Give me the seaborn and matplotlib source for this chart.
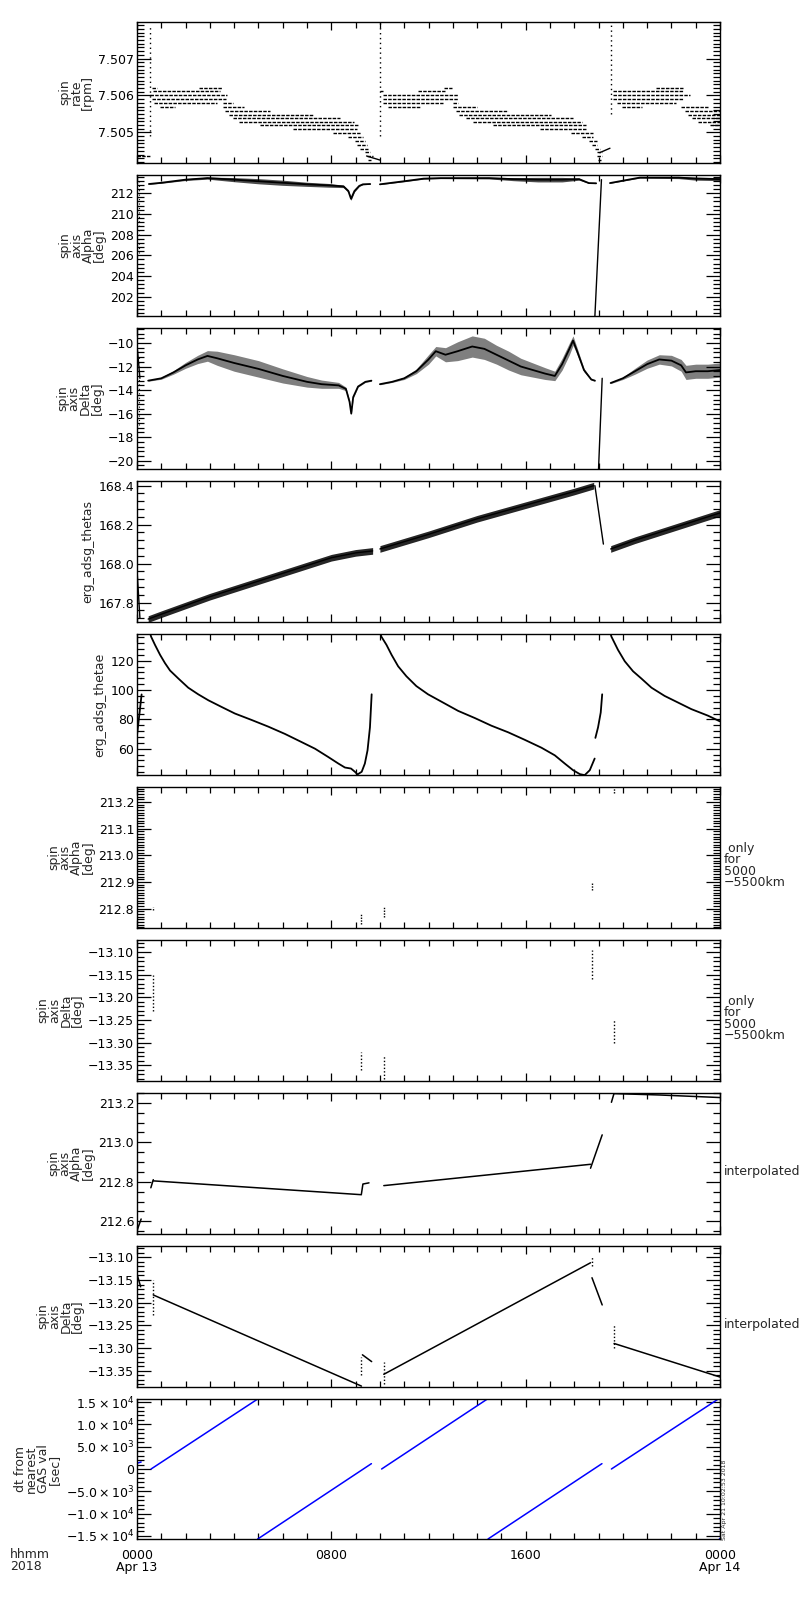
import numpy as np
import pandas as pd
import matplotlib
matplotlib.use('Agg')
import matplotlib.pyplot as plt
import seaborn as sns
from matplotlib.ticker import MultipleLocator, FixedLocator, FixedFormatter, FuncFormatter

sns.set_theme(style='ticks')
plt.rcParams['font.family'] = ['DejaVu Sans']
plt.rcParams['axes.linewidth'] = 1.0

# ---------------- time axis ----------------
xtick_hours = [0, 8, 16, 24]
xtick_labels = ['0000\nApr 13', '0800', '1600', '0000\nApr 14']
corner_label = 'hhmm\n2018'
stamp_text = 'Sat Apr 21 10:02:53 2018'

# ---------------- panel 1 : spin rate ----------------
spin_rate_levels = [7.50621, 7.50611, 7.50600, 7.50590, 7.50579, 7.50569, 7.50558,
                    7.50548, 7.50538, 7.50529, 7.50519, 7.50508, 7.50498, 7.50487,
                    7.50476, 7.50466, 7.50456, 7.50446, 7.50436, 7.50425]
spin_seg_t0 = [0.00, 0.60, 2.55, 0.64, 0.53, 0.60, 0.70, 3.52, 0.95, 3.52, 3.62, 3.80, 3.94, 4.21,
               5.06, 6.43, 8.08, 8.70, 8.97, 9.04, 9.18, 9.38, 9.45, 9.50,
               10.00, 11.55, 12.65, 10.14, 10.14, 10.14, 13.00, 10.34, 13.02, 13.13, 13.26, 13.54,
               13.84, 14.66, 16.58, 17.85, 18.30, 18.61, 18.75, 18.85, 18.92, 18.92, 18.98,
               21.36, 19.60, 19.60, 19.60, 19.74, 19.95, 22.41, 22.55, 22.69, 22.83, 23.10, 23.58]
spin_seg_t1 = [0.53, 0.81, 3.48, 3.42, 3.69, 3.66, 3.28, 3.96, 1.56, 4.42, 5.47, 7.26, 8.36, 8.93,
               9.11, 9.04, 9.24, 9.31, 9.38, 9.45, 9.52, 9.59, 9.73, 9.65,
               10.14, 12.67, 12.95, 13.22, 13.22, 12.58, 13.20, 11.65, 13.98, 15.28, 17.06, 17.93,
               18.30, 18.50, 18.50, 18.78, 18.78, 18.92, 18.94, 19.05, 19.16, 19.16, 19.12,
               22.46, 22.48, 22.76, 22.48, 22.20, 20.77, 23.51, 24.0, 24.0, 24.0, 24.0, 24.0]
spin_seg_lev = [18, 0, 0, 1, 2, 3, 4, 4, 5, 5, 6, 7, 8, 9,
                10, 11, 12, 13, 14, 15, 16, 17, 18, 19,
                1, 1, 0, 2, 3, 4, 4, 5, 5, 6, 7, 8,
                9, 10, 11, 12, 13, 14, 15, 16, 17, 18, 19,
                0, 1, 2, 3, 4, 5, 5, 6, 7, 8, 9, 10]
spin_tail_t = [[9.45, 10.0], [19.05, 19.47]]
spin_tail_v = [[7.50436, 7.50425], [7.50445, 7.50457]]
spin_spike_t = [0.53, 10.0, 19.5]
spin_spike_lo = [7.5049, 7.5049, 7.5055]
spin_spike_hi = [7.5079, 7.5080, 7.5080]

# ---------------- panel 2 : spin axis alpha ----------------
alpha_t = [[0.49, 1.0, 2.0, 2.9, 4.0, 5.0, 6.0, 7.0, 7.9, 8.5, 8.7, 8.81, 8.95, 9.15, 9.3, 9.6],
           [10.0, 11.0, 11.8, 12.5, 14.5, 15.5, 16.5, 17.5, 18.2, 18.6, 18.9],
           [19.47, 20.0, 20.7, 22.3, 23.0, 24.0]]
alpha_c = [[212.88, 213.0, 213.3, 213.45, 213.3, 213.15, 213.0, 212.85, 212.75, 212.65, 212.2, 211.45, 212.2, 212.7, 212.85, 212.88],
           [212.85, 213.15, 213.4, 213.45, 213.45, 213.35, 213.3, 213.3, 213.35, 212.97, 212.95],
           [212.97, 213.2, 213.5, 213.5, 213.4, 213.35]]
alpha_w = [[0.03, 0.05, 0.08, 0.1, 0.2, 0.25, 0.25, 0.2, 0.18, 0.12, 0.12, 0.15, 0.1, 0.05, 0.04, 0.03],
           [0.03, 0.05, 0.05, 0.05, 0.08, 0.15, 0.22, 0.22, 0.1, 0.03, 0.03],
           [0.03, 0.04, 0.05, 0.1, 0.15, 0.15]]
alpha_drop_t = [[18.85, 19.12]]
alpha_drop_v = [[200.13, 213.3]]

# ---------------- panel 3 : spin axis delta ----------------
delta_t = [[0.46, 1.0, 1.5, 2.0, 2.5, 2.9, 3.3, 4.0, 5.0, 6.0, 7.0, 7.6, 8.3, 8.6, 8.75, 8.82, 8.9, 9.1, 9.4, 9.65],
           [10.0, 10.5, 11.0, 11.5, 12.0, 12.3, 12.7, 13.2, 13.8, 14.3, 14.8, 15.3, 15.8, 16.3, 16.8, 17.2, 17.5, 17.8, 17.95, 18.1, 18.4, 18.7, 18.85],
           [19.5, 20.0, 20.5, 21.0, 21.5, 22.0, 22.4, 22.6, 23.0, 23.5, 24.0]]
delta_c = [[-13.2, -13.0, -12.5, -11.9, -11.4, -11.1, -11.3, -11.7, -12.2, -12.8, -13.3, -13.5, -13.6, -13.9, -15.0, -16.0, -14.6, -13.7, -13.3, -13.2],
           [-13.5, -13.3, -13.0, -12.4, -11.4, -10.7, -11.0, -10.7, -10.3, -10.5, -11.0, -11.5, -12.0, -12.3, -12.6, -12.8, -11.8, -10.5, -9.8, -10.6, -12.3, -13.1, -13.2],
           [-13.4, -13.0, -12.4, -11.8, -11.4, -11.5, -11.9, -12.5, -12.4, -12.4, -12.3]]
delta_w = [[0.05, 0.08, 0.15, 0.25, 0.35, 0.45, 0.6, 0.7, 0.7, 0.6, 0.45, 0.35, 0.25, 0.15, 0.15, 0.1, 0.1, 0.05, 0.05, 0.05],
           [0.05, 0.05, 0.1, 0.2, 0.4, 0.4, 0.6, 0.8, 0.9, 0.9, 0.8, 0.8, 0.7, 0.6, 0.5, 0.4, 0.5, 0.5, 0.4, 0.3, 0.15, 0.05, 0.05],
           [0.05, 0.1, 0.25, 0.35, 0.4, 0.45, 0.5, 0.6, 0.6, 0.6, 0.6]]
delta_extra_t = [[0.02, 0.12], [19.0, 19.15]]
delta_extra_v = [[-10.6, -13.0], [-20.7, -13.0]]

# ---------------- panel 4 : erg_adsg_thetas ----------------
thetas_t = [[0.46, 1.0, 2.0, 3.0, 4.0, 5.0, 6.0, 7.0, 8.0, 9.0, 9.7],
            [10.0, 12.0, 14.0, 16.0, 18.0, 18.8],
            [19.5, 20.5, 21.5, 22.5, 23.5, 24.0]]
thetas_c = [[167.715, 167.74, 167.785, 167.83, 167.87, 167.91, 167.95, 167.99, 168.03, 168.055, 168.065],
            [168.075, 168.15, 168.23, 168.30, 168.37, 168.40],
            [168.075, 168.12, 168.16, 168.20, 168.24, 168.26]]
thetas_halfwidth = 0.017
thetas_extra_t = [[0.0, 0.12], [18.85, 19.2]]
thetas_extra_v = [[167.97, 167.72], [168.40, 168.10]]

# ---------------- panel 5 : erg_adsg_thetae ----------------
thetae_t = [[0.0, 0.19],
            [0.55, 0.58, 0.74, 0.95, 1.15, 1.36, 1.70, 2.11, 2.52, 2.94, 3.48, 4.03, 4.72, 5.40, 6.09,
             6.78, 7.33, 7.87, 8.29, 8.56, 8.81, 8.97, 9.08, 9.25, 9.38, 9.49, 9.59, 9.66],
            [10.03, 10.06, 10.27, 10.48, 10.75, 11.09, 11.50, 11.98, 12.53, 13.22, 13.91, 14.59, 15.28,
             15.96, 16.65, 17.20, 17.61, 17.95, 18.23, 18.43, 18.64, 18.84],
            [18.87, 18.98, 19.09, 19.15],
            [19.50, 19.53, 19.80, 20.08, 20.42, 20.76, 21.18, 21.72, 22.27, 22.82, 23.51, 23.99]]
thetae_v = [[69, 97],
            [138.2, 136.4, 130.8, 124.0, 118.4, 113.3, 107.9, 101.6, 97.1, 93.0, 88.5, 84.0, 79.6, 75.1, 70.1,
             64.5, 60.0, 54.4, 49.9, 47.2, 46.5, 44.3, 42.5, 44.3, 49.9, 58.9, 74.6, 97.1],
            [138.2, 136.4, 130.8, 124.0, 116.2, 109.4, 102.7, 97.1, 92.1, 85.8, 80.9, 75.7, 71.2,
             66.1, 60.7, 55.5, 49.9, 45.4, 42.7, 42.0, 45.4, 53.3],
            [67.4, 74.6, 84.7, 97.1],
            [138.2, 136.4, 127.4, 119.6, 112.8, 107.9, 101.6, 96.0, 91.5, 87.0, 82.5, 78.7]]

# ---------------- panels 6/7 : only 5000-5500 km ----------------
near_t = [0.67, 9.24, 10.16, 18.73, 19.64]
near_alpha_lo = [212.795, 212.743, 212.77, 212.869, 213.234]
near_alpha_hi = [212.807, 212.783, 212.81, 212.895, 213.255]
near_delta_lo = [-13.23, -13.36, -13.38, -13.16, -13.30]
near_delta_hi = [-13.15, -13.32, -13.33, -13.095, -13.25]

# ---------------- panel 8 : interpolated alpha ----------------
ialpha_t = [[0.0, 0.17], [0.57, 0.67], [0.67, 9.24], [9.24, 9.30, 9.55],
            [10.16, 18.67], [18.67, 19.15], [19.53, 19.64], [19.64, 21.5, 24.0]]
ialpha_v = [[212.553, 212.612], [212.77, 212.811], [212.805, 212.735], [212.74, 212.789, 212.795],
            [212.781, 212.889], [212.869, 213.038], [213.203, 213.249], [213.247, 213.24, 213.227]]

# ---------------- panel 9 : interpolated delta ----------------
idelta_t = [[0.0, 0.15], [0.67, 9.24], [9.28, 9.66], [10.16, 18.67], [18.73, 19.15], [19.64, 24.0]]
idelta_v = [[-13.137, -13.165], [-13.183, -13.384], [-13.315, -13.33], [-13.358, -13.112],
            [-13.145, -13.205], [-13.29, -13.364]]
idelta_dot_t = [0.67, 9.24, 10.16, 18.73, 19.62]
idelta_dot_lo = [-13.227, -13.36, -13.38, -13.12, -13.30]
idelta_dot_hi = [-13.15, -13.32, -13.33, -13.10, -13.25]

# ---------------- panel 10 : dt from nearest GAS val ----------------
dt_t = [[0.0, 0.17], [0.58, 4.97], [4.97, 9.65], [10.07, 14.41], [14.45, 19.14], [19.53, 23.93]]
dt_v = [[1290, 1570], [0, 15700], [-15700, 1200], [0, 15650], [-15700, 1200], [0, 15700]]
dt_ticks = [-15000, -10000, -5000, 0, 5000, 10000, 15000]
dt_tick_labels = [r'$-1.5\times10^{4}$', r'$-1.0\times10^{4}$', r'$-5.0\times10^{3}$', '0',
                  r'$5.0\times10^{3}$', r'$1.0\times10^{4}$', r'$1.5\times10^{4}$']

ylabels = ['spin\nrate\n[rpm]', 'spin\naxis\nAlpha\n[deg]', 'spin\naxis\nDelta\n[deg]',
           'erg_adsg_thetas', 'erg_adsg_thetae', 'spin\naxis\nAlpha\n[deg]',
           'spin\naxis\nDelta\n[deg]', 'spin\naxis\nAlpha\n[deg]', 'spin\naxis\nDelta\n[deg]',
           'dt from\nnearest\nGAS val\n[sec]']
right_labels = [None, None, None, None, None, ' only\nfor\n5000\n\u22125500km',
                ' only\nfor\n5000\n\u22125500km', 'interpolated', 'interpolated', None]
ylims = [(7.50417, 7.50799), (200.13, 213.75), (-20.7, -8.73), (167.70, 168.424), (42.1, 138.2),
         (212.728, 213.256), (-13.385, -13.0735), (212.536, 213.25), (-13.386, -13.075), (-15700, 15700)]
ymajor = [0.001, 2, 2, 0.2, 20, 0.1, 0.05, 0.2, 0.05, None]
yminor = [0.0001, 0.4, 0.4, 0.04, 4, 0.01, 0.01, 0.05, 0.01, 1000]
yfmt = ['{:.3f}', '{:.0f}', '{:.0f}', '{:.1f}', '{:.0f}', '{:.1f}', '{:.2f}', '{:.1f}', '{:.2f}', None]


def seg_frame(ts, vs):
    rows = []
    for k, (tt, vv) in enumerate(zip(ts, vs)):
        for a, b in zip(tt, vv):
            rows.append((k, a, b))
    return pd.DataFrame(rows, columns=['seg', 't', 'v'])


def draw(ax, ts, vs, color='black', lw=1.0, **kw):
    df = seg_frame(ts, vs)
    sns.lineplot(data=df, x='t', y='v', units='seg', estimator=None, sort=False,
                 color=color, lw=lw, ax=ax, legend=False, **kw)


def band(ax, ts, cs, ws, alpha=0.5):
    for tt, cc, ww in zip(ts, cs, ws):
        tt = np.asarray(tt); cc = np.asarray(cc); ww = np.asarray(ww)
        ax.fill_between(tt, cc - ww, cc + ww, color='black', alpha=alpha, lw=0)
    draw(ax, ts, cs, lw=1.3)


def make_fmt(pattern):
    return FuncFormatter(lambda v, p: pattern.format(v).replace('-', '\u2212'))


W, H = 800, 1600
fig = plt.figure(figsize=(W / 100, H / 100), dpi=100)
fig.patch.set_facecolor('white')
left_px, width_px = 137, 583
tops = [22 + i * 153 for i in range(9)] + [1399]
heights = [141] * 9 + [140]
axes = []
for tp, h in zip(tops, heights):
    ax = fig.add_axes([left_px / W, 1 - (tp + h) / H, width_px / W, h / H])
    axes.append(ax)

# panel 1
ax = axes[0]
seg_t = [[a, b] for a, b in zip(spin_seg_t0, spin_seg_t1)]
seg_v = [[spin_rate_levels[i], spin_rate_levels[i]] for i in spin_seg_lev]
draw(ax, seg_t, seg_v, lw=1.0, linestyle=(0, (2.5, 0.9)))
draw(ax, spin_tail_t, spin_tail_v, lw=1.0)
ax.vlines(spin_spike_t, spin_spike_lo, spin_spike_hi, color='black', lw=1.0, linestyles=(0, (1, 2.5)))

# panel 2
ax = axes[1]
band(ax, alpha_t, alpha_c, alpha_w, alpha=0.7)
draw(ax, alpha_drop_t, alpha_drop_v, lw=1.0)
ax.vlines([0.08], [206.2], [213.4], color='black', lw=0.8, linestyles=(0, (1, 3)))

# panel 3
ax = axes[2]
band(ax, delta_t, delta_c, delta_w, alpha=0.5)
draw(ax, delta_extra_t, delta_extra_v, lw=1.0)
ax.vlines([0.08], [-17.0], [-11.0], color='black', lw=0.8, linestyles=(0, (1, 3)))

# panel 4
ax = axes[3]
for tt, cc in zip(thetas_t, thetas_c):
    cc = np.asarray(cc)
    ax.fill_between(tt, cc - thetas_halfwidth, cc + thetas_halfwidth, color='black', alpha=0.85, lw=0)
draw(ax, thetas_t, thetas_c, lw=1.0)
draw(ax, thetas_extra_t, thetas_extra_v, lw=1.0)

# panel 5
draw(axes[4], thetae_t, thetae_v, lw=1.3)

# panel 6, 7
axes[5].vlines(near_t, near_alpha_lo, near_alpha_hi, color='black', lw=1.0, linestyles=(0, (1, 1)))
axes[6].vlines(near_t, near_delta_lo, near_delta_hi, color='black', lw=1.0, linestyles=(0, (1, 1.5)))

# panel 8
draw(axes[7], ialpha_t, ialpha_v, lw=1.1)

# panel 9
draw(axes[8], idelta_t, idelta_v, lw=1.1)
axes[8].vlines(idelta_dot_t, idelta_dot_lo, idelta_dot_hi, color='black', lw=1.0, linestyles=(0, (1, 1.5)))

# panel 10
draw(axes[9], dt_t, dt_v, color='#0000ff', lw=1.1)
sns.scatterplot(x=[24.0], y=[-15700], color='#0000ff', s=8, ax=axes[9], legend=False)

for i, ax in enumerate(axes):
    ax.set_xlim(0, 24)
    ax.set_ylim(*ylims[i])
    ax.xaxis.set_major_locator(FixedLocator(xtick_hours))
    ax.xaxis.set_minor_locator(MultipleLocator(1))
    if i == 9:
        ax.yaxis.set_major_locator(FixedLocator(dt_ticks))
        ax.yaxis.set_major_formatter(FixedFormatter(dt_tick_labels))
    else:
        ax.yaxis.set_major_locator(MultipleLocator(ymajor[i]))
        ax.yaxis.set_major_formatter(make_fmt(yfmt[i]))
    ax.yaxis.set_minor_locator(MultipleLocator(yminor[i]))
    ax.tick_params(which='both', direction='in', top=True, right=True, bottom=True, left=True,
                   colors='black', width=0.9, labelsize=9)
    ax.tick_params(axis='y', which='major', length=10, pad=2)
    ax.tick_params(axis='y', which='minor', length=5)
    ax.tick_params(axis='x', which='major', length=6)
    ax.tick_params(axis='x', which='minor', length=4)
    for sp in ax.spines.values():
        sp.set_color('black')
        sp.set_linewidth(1.0)
    ax.set_xlabel('')
    ax.set_ylabel(ylabels[i], fontsize=9, linespacing=0.85, labelpad=3)
    ax.grid(False)
    if i < 9:
        ax.set_xticklabels([])
    else:
        ax.set_xticklabels(xtick_labels, fontsize=9, linespacing=0.95)
        ax.tick_params(axis='x', which='major', pad=7)
    if right_labels[i]:
        yc = 1 - (tops[i] + heights[i] / 2 + 8) / H
        fig.text(724 / W, yc, right_labels[i], ha='left', va='center', fontsize=9, linespacing=0.85)

fig.text(10 / W, 1 - 1548 / H, corner_label, ha='left', va='top', fontsize=9, linespacing=0.95)
fig.text(722 / W, 1 - 1540 / H, stamp_text, rotation=90, ha='left', va='bottom', fontsize=4.5)

fig.savefig('out.png', dpi=100, facecolor='white')
